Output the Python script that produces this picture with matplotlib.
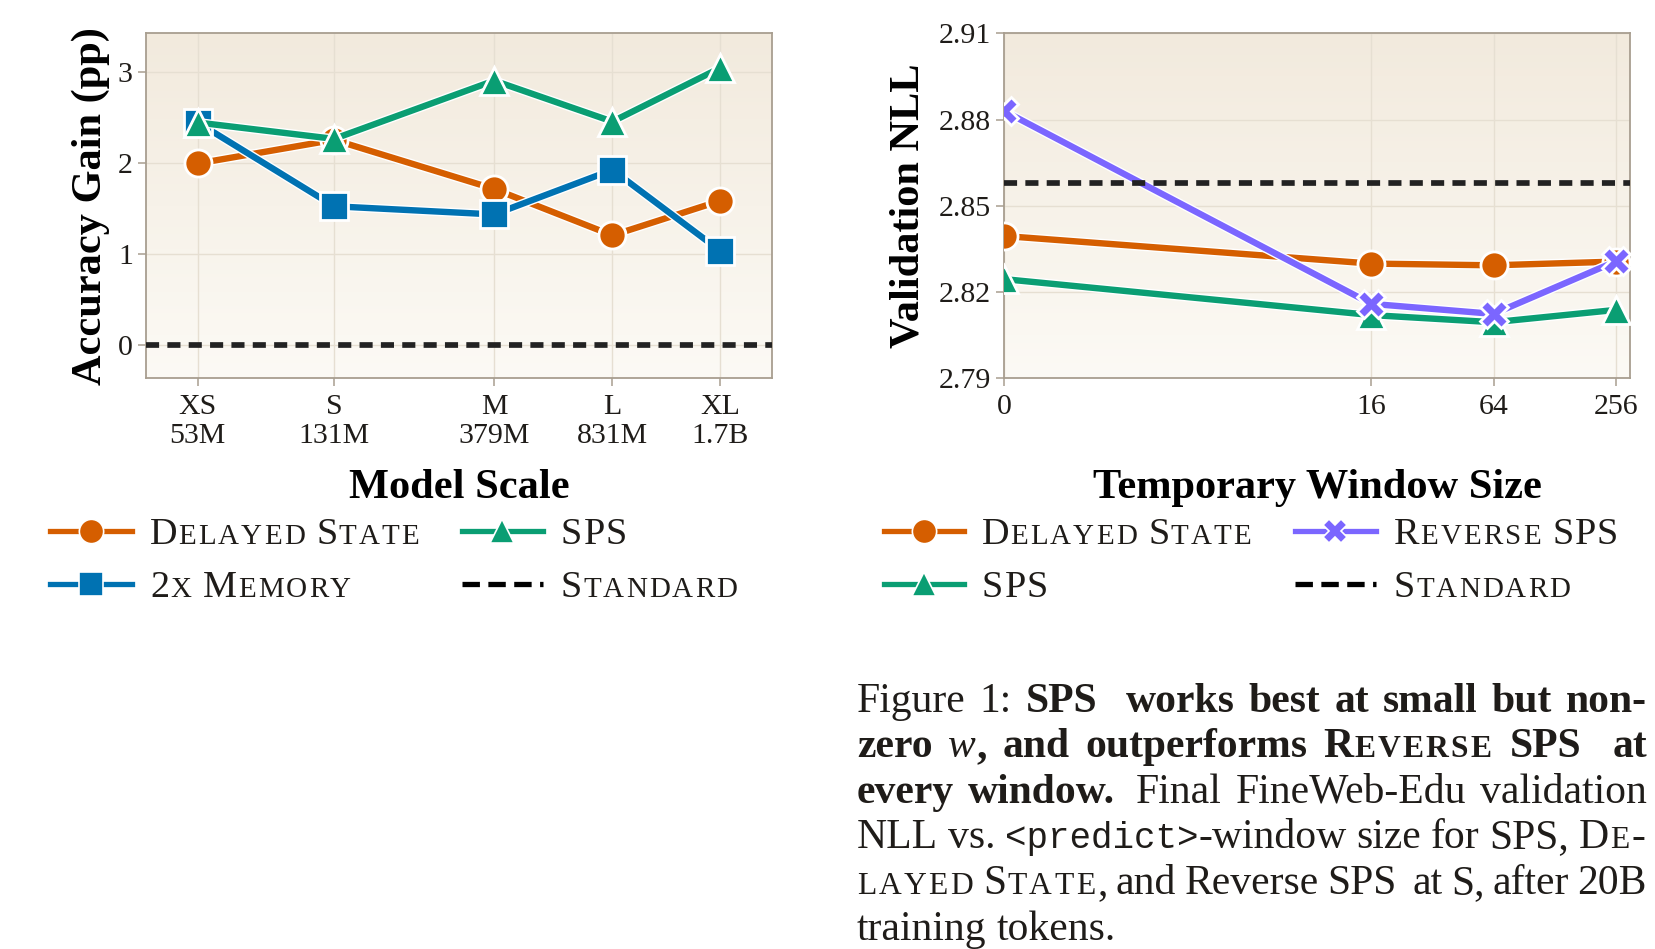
import numpy as np
import matplotlib
matplotlib.use("Agg")
import matplotlib.pyplot as plt
import matplotlib.patheffects as pe
from matplotlib.colors import LinearSegmentedColormap
from matplotlib.font_manager import FontProperties
from matplotlib.lines import Line2D
from matplotlib.ticker import FixedLocator, NullLocator

# ---------------- data ----------------
scale_names = ["XS", "S", "M", "L", "XL"]
scale_sizes = ["53M", "131M", "379M", "831M", "1.7B"]
scale_params = [53e6, 131e6, 379e6, 831e6, 1.7e9]
gain_delayed = [1.99, 2.25, 1.71, 1.20, 1.58]
gain_sps = [2.44, 2.26, 2.90, 2.45, 3.04]
gain_memory = [2.44, 1.52, 1.43, 1.92, 1.03]
gain_standard = 0.0

windows = [0, 16, 64, 256]
nll_delayed = [2.8395, 2.8299, 2.8293, 2.8306]
nll_sps = [2.8245, 2.8120, 2.8095, 2.8138]
nll_reverse = [2.8830, 2.8159, 2.8124, 2.8307]
nll_standard = 2.858
nll_ticks = [2.79, 2.82, 2.85, 2.88, 2.91]

# ---------------- style ----------------
W, H = 1656, 949
SERIF = "Liberation Serif"
MONO = "Liberation Mono"
INK = "#1f1c19"
SPINE = "#a89e90"
GRID = "#e6dfd2"
ORANGE = "#D55E00"
GREEN = "#0A9E73"
BLUE = "#0072B2"
PURPLE = "#7B66FF"
DARK = "#222222"
SC_RATIO = 0.76
PX = 100 / 72  # pixels per point

plt.rcParams["font.family"] = SERIF
plt.rcParams["text.color"] = INK

fig = plt.figure(figsize=(W / 100, H / 100), dpi=100)
renderer = fig.canvas.get_renderer()


def make_axes(left_px):
    rect = [left_px / W, 1 - 378.3 / H, 626 / W, 345 / H]
    bg = fig.add_axes(rect, zorder=0)
    grad = np.linspace(0, 1, 256)[:, None]
    cmap = LinearSegmentedColormap.from_list("bg", ["#fcfaf5", "#f2eadd"])
    bg.imshow(grad, cmap=cmap, aspect="auto", origin="lower", extent=[0, 1, 0, 1])
    bg.set_axis_off()
    ax = fig.add_axes(rect, zorder=1)
    ax.patch.set_alpha(0)
    for s in ax.spines.values():
        s.set_color(SPINE)
        s.set_linewidth(1.3)
    ax.tick_params(direction="out", length=6, width=1.1, color=SPINE,
                   labelsize=21.5, labelcolor=INK)
    ax.tick_params(axis="x", pad=5)
    ax.tick_params(axis="y", pad=3.5)
    ax.grid(True, color=GRID, lw=1.0)
    ax.set_axisbelow(True)
    return ax


def series(ax, x, y, color, marker, z):
    ax.plot(x, y, color=color, lw=4.6, zorder=z, solid_capstyle="round",
            path_effects=[pe.Stroke(linewidth=6.6, foreground="white"), pe.Normal()])
    ax.plot(x, y, ls="none", marker=marker, ms=19.5, mfc=color, mec="white",
            mew=2.0, zorder=z + 0.5)


def standard(ax, y):
    ax.axhline(y, color=DARK, lw=4.1, dashes=(2.3, 1.45), zorder=10)


# ---------------- left panel ----------------
ax1 = make_axes(146)
series(ax1, scale_params, gain_delayed, ORANGE, "o", 3)
series(ax1, scale_params, gain_memory, BLUE, "s", 4)
series(ax1, scale_params, gain_sps, GREEN, "^", 5)
standard(ax1, gain_standard)
ax1.set_xscale("log")
ax1.xaxis.set_major_locator(FixedLocator(scale_params))
ax1.xaxis.set_minor_locator(NullLocator())
ax1.set_xticklabels([f"{n}\n{s}" for n, s in zip(scale_names, scale_sizes)])
for t in ax1.get_xticklabels():
    t.set_linespacing(1.18)
ax1.set_xlim(scale_params[0] / 1.41, scale_params[-1] * 1.41)
ax1.set_ylim(-0.37, 3.42)
ax1.set_yticks([0, 1, 2, 3])
ax1.set_xlabel("Model Scale", fontsize=30.5, weight="bold", va="baseline")
ax1.xaxis.set_label_coords(0.5, -0.347)
ax1.set_ylabel("Accuracy Gain (pp)", fontsize=30.5, weight="bold", va="center", ha="center")
ax1.yaxis.set_label_coords(-0.089, 0.5)

# ---------------- right panel ----------------
ax2 = make_axes(1004)
series(ax2, windows, nll_delayed, ORANGE, "o", 3)
series(ax2, windows, nll_sps, GREEN, "^", 4)
series(ax2, windows, nll_reverse, PURPLE, "X", 5)
standard(ax2, nll_standard)
ax2.set_xscale("symlog", base=2, linthresh=1, linscale=1)
ax2.xaxis.set_major_locator(FixedLocator(windows))
ax2.xaxis.set_minor_locator(NullLocator())
ax2.set_xticklabels([str(w) for w in windows])
ax2.set_xlim(0, 300)
ax2.set_ylim(2.79, 2.91)
ax2.set_yticks(nll_ticks)
ax2.set_yticklabels([f"{v:.2f}" for v in nll_ticks])
ax2.set_xlabel("Temporary Window Size", fontsize=30.5, weight="bold", va="baseline")
ax2.xaxis.set_label_coords(0.5, -0.347)
ax2.set_ylabel("Validation NLL", fontsize=30.5, weight="bold", va="center", ha="center")
ax2.yaxis.set_label_coords(-0.153, 0.5)


# ---------------- text helpers (small caps, justified caption) ----------------
def advance(txt, sz, wt, st, fam):
    fp = FontProperties(family=fam, size=sz, weight=wt, style=st)
    w1 = renderer.get_text_width_height_descent("|" + txt + "|", fp, ismath=False)[0]
    w0 = renderer.get_text_width_height_descent("||", fp, ismath=False)[0]
    return w1 - w0


def smallcaps(text, size, weight):
    # lowercase letters become reduced capitals, set one by one with a little tracking
    out = []
    for ch in text:
        if ch.islower():
            sz = size * SC_RATIO
            out.append((ch.upper(), sz, weight, "normal", SERIF, 0.07 * sz * PX))
        else:
            out.append((ch, size, weight, "normal", SERIF, 0.03 * size * PX))
    return out


def runs_for(text, style, size):
    weight = "bold" if style in ("b", "bsc") else "normal"
    if style in ("sc", "bsc"):
        return smallcaps(text, size, weight)
    if style == "tt":
        return [(text, size * 0.86, "normal", "normal", MONO, 0)]
    fstyle = "italic" if style == "i" else "normal"
    return [(text, size, weight, fstyle, SERIF, 0)]


def place(runs, x, yb):
    arts = []
    for txt, sz, wt, st, fam, track in runs:
        t = fig.text(x / W, 1 - yb / H, txt, fontsize=sz, weight=wt, style=st,
                     family=fam, color=INK, ha="left", va="baseline")
        x += advance(txt, sz, wt, st, fam) + track
        arts.append(t)
    return arts, x


def shift(arts, dx):
    for t in arts:
        px, py = t.get_position()
        t.set_position((px + dx / W, py))


def sc_label(text, x, yb, size):
    gap = 0.25 * size * PX
    for word in text.split(" "):
        _, x = place(smallcaps(word, size, "normal"), x, yb)
        x += gap


def legend_entry(x0, x1, yb, color, marker, label, dashed=False):
    y = 1 - (yb - 13) / H
    xs = [x0 / W, (x0 + x1) / 2 / W, x1 / W]
    if dashed:
        fig.add_artist(Line2D(xs, [y] * 3, transform=fig.transFigure, color="black",
                              lw=3.8, dashes=(3.3, 1.6)))
    else:
        fig.add_artist(Line2D(xs, [y] * 3, transform=fig.transFigure, color=color,
                              lw=3.8, marker=marker, markevery=[1], ms=17.5,
                              mfc=color, mec="white", mew=1.2))
    sc_label(label, x1 + 18, yb, 27.5)


# legends
legend_entry(50, 132, 544, ORANGE, "o", "Delayed State")
legend_entry(462, 543, 544, GREEN, "^", "SPS")
legend_entry(50, 132, 597, BLUE, "s", "2x Memory")
legend_entry(462, 543, 597, None, None, "Standard", dashed=True)

legend_entry(884, 964, 544, ORANGE, "o", "Delayed State")
legend_entry(1295, 1376, 544, PURPLE, "X", "Reverse SPS")
legend_entry(884, 964, 597, GREEN, "^", "SPS")
legend_entry(1295, 1376, 597, None, None, "Standard", dashed=True)

# caption: words are lists of (text, style); a float adds extra inter-word space
caption_lines = [
    [[("Figure", "r")], [("1:", "r")], [("SPS", "b")], 1.0, [("works", "b")], [("best", "b")],
     [("at", "b")], [("small", "b")], [("but", "b")], [("non-", "b")]],
    [[("zero", "b")], [("w", "i"), (",", "b")], [("and", "b")], [("outperforms", "b")],
     [("Reverse", "bsc")], [("SPS", "b")], 1.0, [("at", "b")]],
    [[("every", "b")], [("window.", "b")], 0.5, [("Final", "r")], [("FineWeb-Edu", "r")],
     [("validation", "r")]],
    [[("NLL", "r")], [("vs.", "r")], [("<predict>", "tt"), ("-window", "r")], [("size", "r")],
     [("for", "r")], [("SPS,", "r")], [("De-", "sc")]],
    [[("layed", "sc")], [("State", "sc"), (",", "r")], [("and", "r")], [("Reverse", "r")],
     [("SPS", "r")], 1.0, [("at", "r")], [("S,", "r")], [("after", "r")], [("20B", "r")]],
    [[("training", "r")], [("tokens.", "r")]],
]
CAP_SIZE = 30
CAP_LEFT, CAP_RIGHT = 857, 1647
CAP_TOP, CAP_STEP = 711.7, 45.6

for i, line in enumerate(caption_lines):
    yb = CAP_TOP + i * CAP_STEP
    words, extras = [], []
    pending = 0.0
    for item in line:
        if isinstance(item, float):
            pending += item
            continue
        runs = []
        for txt, st in item:
            runs += runs_for(txt, st, CAP_SIZE)
        arts, xe = place(runs, 0, yb)
        words.append((arts, xe))
        extras.append(pending)
        pending = 0.0
    total = sum(xe for _, xe in words)
    units = (len(words) - 1) + sum(extras[1:])
    if i == len(caption_lines) - 1:
        gap = 0.25 * CAP_SIZE * PX
    else:
        gap = (CAP_RIGHT - CAP_LEFT - total) / units
    x = CAP_LEFT
    for k, (arts, xe) in enumerate(words):
        if k > 0:
            x += gap * (1 + extras[k])
        shift(arts, x)
        x += xe

fig.savefig("out.png", dpi=100)
